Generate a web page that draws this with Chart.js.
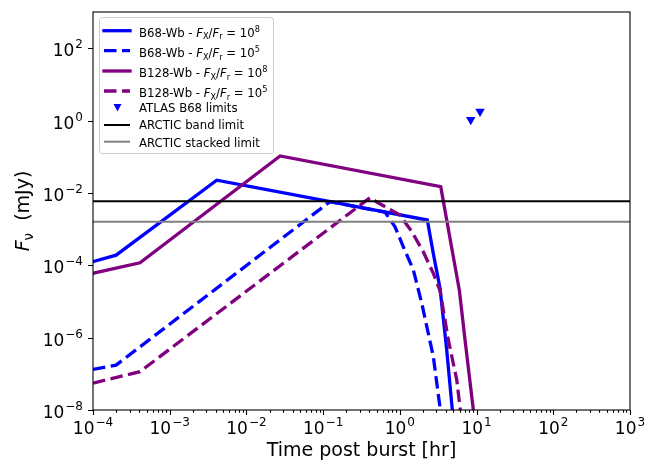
<!DOCTYPE html>
<html>
<head>
<meta charset="utf-8">
<script src="https://cdn.jsdelivr.net/npm/chart.js@4"></script>
<style>
  body { margin: 0; background: #fff; }
</style>
</head>
<body>
<canvas id="chart" width="645" height="460"></canvas>
<script>
// light curves (time in hr, flux in mJy)
const b68HiTime = [1e-4, 2e-4, 4.1e-3, 2.28, 2.73, 3.34, 4.08, 4.83, 5.3];
const b68HiFlux = [1.26e-4, 1.9e-4, 2.24e-2, 1.78e-3, 2.1e-4, 2.3e-5, 4.6e-7, 1.0e-8, 1.0e-9];

const b68LoTime = [1e-4, 2e-4, 0.123, 0.3, 0.64, 0.865, 1.11, 1.5, 1.93, 2.73, 3.34, 3.8];
const b68LoFlux = [1.32e-7, 1.74e-7, 5.75e-3, 3.98e-3, 2.95e-3, 1.15e-3, 3.24e-4, 7.4e-5, 8.9e-6, 3.0e-7, 1.15e-8, 1.26e-9];

const b128HiTime = [1e-4, 4.1e-4, 0.0275, 3.41, 4.51, 5.97, 7.08, 9.08, 10];
const b128HiFlux = [6.0e-5, 1.17e-4, 0.105, 1.48e-2, 5.5e-4, 2.0e-5, 8.5e-7, 1.0e-8, 1.0e-9];

const b128LoTime = [1e-4, 4.1e-4, 0.41, 0.5, 1.0, 1.43, 2.02, 2.73, 3.34, 4.29, 5.52, 6.1, 6.8];
const b128LoFlux = [5.5e-8, 1.15e-7, 7.4e-3, 5.6e-3, 2.45e-3, 8.5e-4, 2.35e-4, 6.0e-5, 2.0e-5, 8.5e-7, 6.8e-8, 1.12e-8, 1.6e-9];

const atlasTime = [8.4, 11.1];
const atlasFlux = [1.05, 1.79];

const limitTime = [1e-4, 1e3];
const arcticBand = 5.9e-3;
const arcticStacked = 1.6e-3;

const xTickExps = [-4, -3, -2, -1, 0, 1, 2, 3];
const yTickExps = [-8, -6, -4, -2, 0, 2];

const FONT = '"DejaVu Sans", sans-serif';

function pts(t, f) {
  return t.map((x, i) => ({ x: x, y: f[i] }));
}

function curve(label, t, f, color, dashed, order) {
  return {
    label: label,
    data: pts(t, f),
    borderColor: color,
    borderWidth: 3.3,
    borderDash: dashed ? [12.5, 5.5] : [],
    borderCapStyle: dashed ? 'butt' : 'square',
    pointRadius: 0,
    tension: 0,
    fill: false,
    clip: 0,
    order: order
  };
}

function drawPow(ctx, px, base, e, align) {
  const es = e < 0 ? '\u2212' + (-e) : String(e);
  ctx.font = '17px ' + FONT;
  const w1 = ctx.measureText('10').width;
  ctx.font = '12px ' + FONT;
  const w2 = ctx.measureText(es).width;
  const w = w1 + 1 + w2;
  const x0 = align === 'center' ? px - w / 2 : px - w;
  ctx.font = '17px ' + FONT;
  ctx.fillText('10', x0, base);
  ctx.font = '12px ' + FONT;
  ctx.fillText(es, x0 + w1 + 1, base - 8);
}

function drawRich(ctx, x, y, parts) {
  parts.forEach(p => {
    ctx.font = (p.it ? 'italic ' : '') + p.s + 'px ' + FONT;
    ctx.fillText(p.t, x, y + (p.dy || 0));
    x += ctx.measureText(p.t).width;
  });
  return x;
}

function ratioText(name, exp) {
  return [
    { t: name + ' - ', s: 11.7 },
    { t: 'F', s: 11.7, it: true },
    { t: 'X', s: 8.2, dy: 2.5 },
    { t: '/', s: 11.7 },
    { t: 'F', s: 11.7, it: true },
    { t: 'r', s: 8.2, dy: 2.5 },
    { t: ' = 10', s: 11.7 },
    { t: exp, s: 8.2, dy: -5 }
  ];
}

const axesPlugin = {
  id: 'axesPlugin',
  afterDatasetsDraw(chart) {
    const { ctx, chartArea: a, scales: { x, y } } = chart;
    ctx.save();
    ctx.strokeStyle = '#000';
    ctx.fillStyle = '#000';
    ctx.lineWidth = 1.1;
    ctx.strokeRect(a.left, a.top, a.right - a.left, a.bottom - a.top);

    // x ticks, major + minor
    ctx.beginPath();
    xTickExps.forEach(e => {
      const px = Math.round(x.getPixelForValue(Math.pow(10, e))) + 0.5;
      ctx.moveTo(px, a.bottom);
      ctx.lineTo(px, a.bottom + 5);
      if (e < 3) {
        for (let k = 2; k <= 9; k++) {
          const mx = Math.round(x.getPixelForValue(k * Math.pow(10, e))) + 0.5;
          ctx.moveTo(mx, a.bottom);
          ctx.lineTo(mx, a.bottom + 2.8);
        }
      }
    });
    yTickExps.forEach(e => {
      const py = Math.round(y.getPixelForValue(Math.pow(10, e))) + 0.5;
      ctx.moveTo(a.left, py);
      ctx.lineTo(a.left - 5, py);
    });
    ctx.stroke();

    ctx.textBaseline = 'alphabetic';
    ctx.textAlign = 'left';
    xTickExps.forEach(e => {
      drawPow(ctx, x.getPixelForValue(Math.pow(10, e)), 434, e, 'center');
    });
    yTickExps.forEach(e => {
      drawPow(ctx, a.left - 10, y.getPixelForValue(Math.pow(10, e)) + 8, e, 'right');
    });

    // axis titles
    ctx.font = '19px ' + FONT;
    ctx.textAlign = 'center';
    ctx.fillText('Time post burst [hr]', (a.left + a.right) / 2, 456);

    ctx.save();
    ctx.translate(29, (a.top + a.bottom) / 2);
    ctx.rotate(-Math.PI / 2);
    ctx.textAlign = 'left';
    const parts = [
      { t: 'F', s: 19, it: true },
      { t: '\u03bd', s: 13.3, dy: 4 },
      { t: '  (mJy)', s: 19 }
    ];
    let w = 0;
    parts.forEach(p => {
      ctx.font = (p.it ? 'italic ' : '') + p.s + 'px ' + FONT;
      w += ctx.measureText(p.t).width;
    });
    drawRich(ctx, -w / 2, 0, parts);
    ctx.restore();
    ctx.restore();
  },
  afterDraw(chart) {
    const ctx = chart.ctx;
    ctx.save();
    // legend frame
    ctx.fillStyle = 'rgba(255,255,255,0.8)';
    ctx.strokeStyle = '#cccccc';
    ctx.lineWidth = 1;
    ctx.beginPath();
    ctx.roundRect(99.5, 17.5, 174, 136, 3);
    ctx.fill();
    ctx.stroke();

    const hx0 = 104, hx1 = 130, tx = 139;
    const rows = [
      { hy: 30.7, by: 36.7, color: '#0000ff', dash: false, txt: ratioText('B68-Wb', '8') },
      { hy: 50.7, by: 57.3, color: '#0000ff', dash: true, txt: ratioText('B68-Wb', '5') },
      { hy: 71, by: 77, color: '#800080', dash: false, txt: ratioText('B128-Wb', '8') },
      { hy: 91, by: 97.3, color: '#800080', dash: true, txt: ratioText('B128-Wb', '5') }
    ];
    rows.forEach(r => {
      ctx.strokeStyle = r.color;
      ctx.lineWidth = 3.3;
      ctx.setLineDash(r.dash ? [12.5, 5.5] : []);
      ctx.lineCap = r.dash ? 'butt' : 'square';
      ctx.beginPath();
      ctx.moveTo(hx0, r.hy);
      ctx.lineTo(hx1, r.hy);
      ctx.stroke();
      ctx.fillStyle = '#000';
      drawRich(ctx, tx, r.by, r.txt);
    });
    ctx.setLineDash([]);
    ctx.lineCap = 'butt';

    // triangle marker
    ctx.fillStyle = '#0000ff';
    ctx.beginPath();
    ctx.moveTo(113.5, 104);
    ctx.lineTo(121.5, 104);
    ctx.lineTo(117.5, 111.5);
    ctx.closePath();
    ctx.fill();
    ctx.fillStyle = '#000';
    ctx.font = '11.7px ' + FONT;
    ctx.fillText('ATLAS B68 limits', tx, 111.7);

    ctx.lineWidth = 2;
    ctx.strokeStyle = '#000';
    ctx.beginPath();
    ctx.moveTo(hx0, 125);
    ctx.lineTo(hx1, 125);
    ctx.stroke();
    ctx.fillText('ARCTIC band limit', tx, 129);

    ctx.strokeStyle = '#808080';
    ctx.beginPath();
    ctx.moveTo(hx0, 141.7);
    ctx.lineTo(hx1, 141.7);
    ctx.stroke();
    ctx.fillText('ARCTIC stacked limit', tx, 146.5);
    ctx.restore();
  }
};

new Chart(document.getElementById('chart'), {
  type: 'line',
  data: {
    datasets: [
      curve('B68-Wb 1e8', b68HiTime, b68HiFlux, '#0000ff', false, 0),
      curve('B68-Wb 1e5', b68LoTime, b68LoFlux, '#0000ff', true, -1),
      curve('B128-Wb 1e8', b128HiTime, b128HiFlux, '#800080', false, -2),
      curve('B128-Wb 1e5', b128LoTime, b128LoFlux, '#800080', true, -3),
      {
        label: 'ATLAS B68 limits',
        data: pts(atlasTime, atlasFlux),
        showLine: false,
        pointStyle: 'triangle',
        rotation: 180,
        pointRadius: 5.5,
        backgroundColor: '#0000ff',
        borderColor: '#0000ff',
        borderWidth: 0,
        order: -4
      },
      {
        label: 'ARCTIC band limit',
        data: pts(limitTime, limitTime.map(() => arcticBand)),
        borderColor: '#000000',
        borderWidth: 2,
        pointRadius: 0,
        clip: 0,
        order: -5
      },
      {
        label: 'ARCTIC stacked limit',
        data: pts(limitTime, limitTime.map(() => arcticStacked)),
        borderColor: '#808080',
        borderWidth: 2,
        pointRadius: 0,
        clip: 0,
        order: -6
      }
    ]
  },
  options: {
    responsive: false,
    animation: false,
    layout: { padding: { left: 0, right: 15, top: 12, bottom: 0 } },
    plugins: { legend: { display: false }, tooltip: { enabled: false } },
    scales: {
      x: {
        type: 'logarithmic', min: 1e-4, max: 1e3,
        grid: { display: false }, border: { display: false },
        ticks: { display: false },
        afterFit: s => { s.height = 50; }
      },
      y: {
        type: 'logarithmic', min: 1e-8, max: 1e3,
        grid: { display: false }, border: { display: false },
        ticks: { display: false },
        afterFit: s => { s.width = 93; }
      }
    }
  },
  plugins: [axesPlugin]
});
</script>
</body>
</html>
